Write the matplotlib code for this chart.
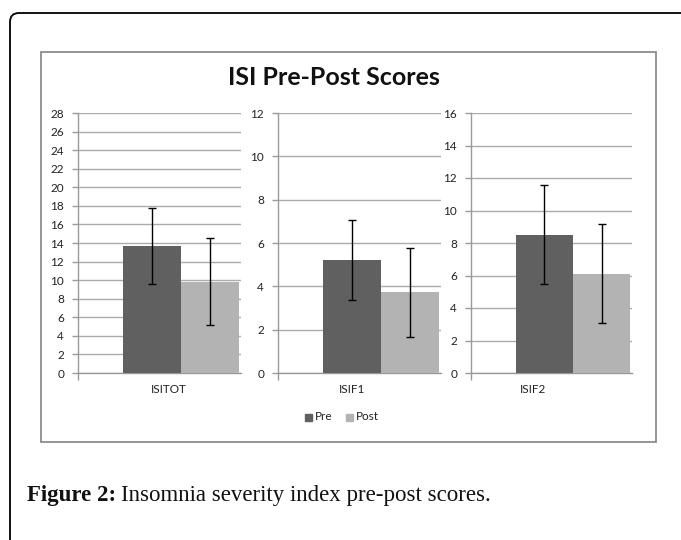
import matplotlib
matplotlib.use("Agg")
import matplotlib.pyplot as plt
from matplotlib.patches import FancyBboxPatch, Rectangle
from matplotlib.transforms import IdentityTransform

# ---- data ----
categories = ["ISITOT", "ISIF1", "ISIF2"]
series = ["Pre", "Post"]
pre_means = [13.7, 5.2, 8.5]
post_means = [9.85, 3.72, 6.1]
pre_err = [4.1, 1.85, 3.05]
post_err = [4.65, 2.07, 3.05]
y_max = [28, 12, 16]
y_step = [2, 2, 2]

# ---- layout (pixels) ----
W, H = 681, 540
axes_px = [(78, 241), (278, 441), (471, 632)]
ax_top, ax_bot = 113, 373
label_pos = [-0.076, -0.181, -0.251]   # x-label position in data units
pre_col = "#606060"
post_col = "#b3b3b3"
grid_col = "#ababab"

fig = plt.figure(figsize=(W / 100, H / 100), dpi=100)

def fx(px):
    return px / W

def fy(py):
    return 1 - py / H

# outer rounded frame
outer = FancyBboxPatch((10, -30), 720, H - 13 + 30,
                       boxstyle="round,pad=0,rounding_size=9",
                       transform=IdentityTransform(), fill=False,
                       edgecolor="#111111", linewidth=1.4)
fig.patches.append(outer)

# inner chart box
inner = Rectangle((fx(41), fy(442)), fx(656) - fx(41), fy(52) - fy(442),
                  transform=fig.transFigure, fill=False,
                  edgecolor="#8c8c8c", linewidth=1.3)
fig.patches.append(inner)

tick_font = dict(family=["Lato", "DejaVu Sans"], size=8.5)

for i, cat in enumerate(categories):
    l, r = axes_px[i]
    ax = fig.add_axes([fx(l), fy(ax_bot), fx(r) - fx(l), fy(ax_top) - fy(ax_bot)])
    ax.set_facecolor("none")
    w = 0.36
    ax.bar(-w / 2, pre_means[i], width=w, color=pre_col, zorder=3)
    ax.bar(w / 2, post_means[i], width=w, color=post_col, zorder=3)
    ax.errorbar([-w / 2, w / 2], [pre_means[i], post_means[i]],
                yerr=[pre_err[i], post_err[i]], fmt="none", ecolor="black",
                elinewidth=1.0, capsize=3, capthick=1.0, zorder=4)
    ax.set_xlim(-0.64, 0.37)
    ax.set_ylim(0, y_max[i])
    ticks = list(range(0, y_max[i] + 1, y_step[i]))
    ax.set_yticks(ticks)
    ax.set_yticklabels([str(t) for t in ticks], **tick_font, color="#222222")
    ax.yaxis.grid(True, color=grid_col, linewidth=1.0, zorder=0)
    ax.set_axisbelow(True)
    for s in ["top", "right"]:
        ax.spines[s].set_visible(False)
    for s in ["left", "bottom"]:
        ax.spines[s].set_color("#9a9a9a")
        ax.spines[s].set_linewidth(1.0)
    ax.tick_params(axis="y", length=4, width=1, color="#9a9a9a", pad=6)
    ax.set_xticks([-0.64])
    ax.set_xticklabels([""])
    ax.tick_params(axis="x", length=5, width=1, color="#9a9a9a")
    ax.set_xticks([label_pos[i]], minor=True)
    ax.set_xticklabels([cat], minor=True, family=["Lato", "DejaVu Sans"],
                       size=8.5, color="#222222")
    ax.tick_params(axis="x", which="minor", length=0, pad=8)

# title
fig.text(fx(334), fy(78), "ISI Pre-Post Scores", ha="center", va="center",
         family=["Lato", "DejaVu Sans"], weight="bold", size=18, color="#111111")

# legend
lx, ly = 305, 417
for name, col, off in [(series[0], pre_col, 0), (series[1], post_col, 41)]:
    fig.patches.append(Rectangle((fx(lx + off), fy(ly + 3.5)), fx(7), 7 / H,
                                 transform=fig.transFigure, color=col))
    fig.text(fx(lx + off + 10), fy(ly), name, ha="left", va="center",
             family=["Lato", "DejaVu Sans"], size=8.5, color="#222222")

# caption
t1 = fig.text(fx(27), fy(495), "Figure 2:", ha="left", va="center",
              family=["Liberation Serif", "DejaVu Serif"], weight="bold",
              size=16.5, color="#111111")
fig.canvas.draw()
bb = t1.get_window_extent()
fig.text(bb.x1 / W + fx(5), fy(495), "Insomnia severity index pre-post scores.",
         ha="left", va="center", family=["Liberation Serif", "DejaVu Serif"],
         size=16.5, color="#111111")

fig.savefig("out.png", dpi=100)
